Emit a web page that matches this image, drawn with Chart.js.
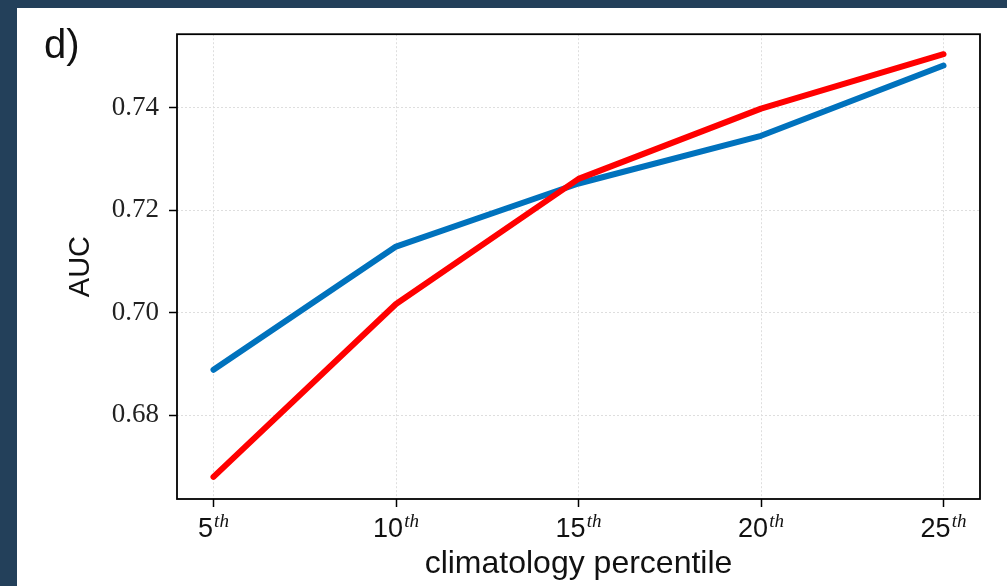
<!DOCTYPE html>
<html>
<head>
<meta charset="utf-8">
<script src="https://cdn.jsdelivr.net/npm/chart.js@4"></script>
<style>
  body { margin: 0; background: #23405a; overflow: hidden; }
  #panel { position: absolute; left: 17px; top: 8px; width: 990px; height: 578px; background: #fff; }
</style>
</head>
<body>
<div id="panel"><canvas id="chart" width="990" height="578"></canvas></div>
<script>
// values
const percentiles = [5, 10, 15, 20, 25];
const blueAuc = [0.6889, 0.7129, 0.7252, 0.7345, 0.7482];
const redAuc = [0.6680, 0.7017, 0.7261, 0.7398, 0.7504];
const yTicks = [0.68, 0.70, 0.72, 0.74];

const toPoints = vals => percentiles.map((p, i) => ({ x: p, y: vals[i] }));

// frame, panel letter and the "5^th" style tick labels
const extras = {
  id: 'extras',
  afterDraw(chart) {
    const { ctx, chartArea: a } = chart;
    const xs = chart.scales.x;
    ctx.save();
    ctx.strokeStyle = '#000';
    ctx.lineWidth = 1.8;
    ctx.strokeRect(a.left, a.top, a.right - a.left, a.bottom - a.top);

    ctx.fillStyle = '#111';
    ctx.textBaseline = 'alphabetic';
    ctx.font = '40px "Liberation Sans", Arial, sans-serif';
    ctx.fillText('d)', 27, 50);

    percentiles.forEach(p => {
      const px = xs.getPixelForValue(p);
      const num = String(p);
      ctx.font = '27px "Liberation Sans", Arial, sans-serif';
      const nw = ctx.measureText(num).width;
      ctx.font = 'italic 19px "Liberation Serif", serif';
      const tw = ctx.measureText('th').width;
      const start = px - (nw + tw + 1) / 2;
      ctx.font = '27px "Liberation Sans", Arial, sans-serif';
      ctx.fillText(num, start, 529);
      ctx.font = 'italic 19px "Liberation Serif", serif';
      ctx.fillText('th', start + nw + 1, 519);
    });
    ctx.restore();
  }
};

new Chart(document.getElementById('chart'), {
  type: 'line',
  data: {
    datasets: [
      { label: 'red', data: toPoints(redAuc), borderColor: '#ff0000', borderWidth: 6 },
      { label: 'blue', data: toPoints(blueAuc), borderColor: '#0072bd', borderWidth: 6 }
    ]
  },
  options: {
    responsive: false,
    animation: false,
    layout: { padding: { top: 24, right: 27, left: 0, bottom: 0 } },
    elements: {
      point: { radius: 0 },
      line: { tension: 0, borderCapStyle: 'round', borderJoinStyle: 'round' }
    },
    plugins: { legend: { display: false }, tooltip: { enabled: false } },
    scales: {
      x: {
        type: 'linear',
        min: 4,
        max: 26,
        afterBuildTicks: s => { s.ticks = percentiles.map(v => ({ value: v })); },
        afterFit: s => { s.height = 87; },
        ticks: { display: false },
        grid: { color: '#dedede', tickColor: '#000', tickLength: 8, tickWidth: 1.5, tickBorderDash: [] },
        border: { display: false, dash: [2, 2] },
        title: {
          display: true,
          text: 'climatology percentile',
          color: '#111',
          font: { family: '"Liberation Sans", Arial, sans-serif', size: 32 },
          padding: { top: 0, bottom: 3 }
        }
      },
      y: {
        min: 0.6637,
        max: 0.7543,
        afterBuildTicks: s => { s.ticks = yTicks.map(v => ({ value: v })); },
        afterFit: s => { s.width = 160; },
        ticks: {
          padding: 10,
          color: '#222',
          font: { family: '"Liberation Serif", serif', size: 27 },
          callback: v => v.toFixed(2)
        },
        grid: { color: '#dedede', tickColor: '#000', tickLength: 8, tickWidth: 1.5, tickBorderDash: [] },
        border: { display: false, dash: [2, 2] },
        title: {
          display: true,
          text: 'AUC',
          color: '#111',
          font: { family: '"Liberation Sans", Arial, sans-serif', size: 29 },
          padding: { top: 47, bottom: 0 }
        }
      }
    }
  },
  plugins: [extras]
});
</script>
</body>
</html>
